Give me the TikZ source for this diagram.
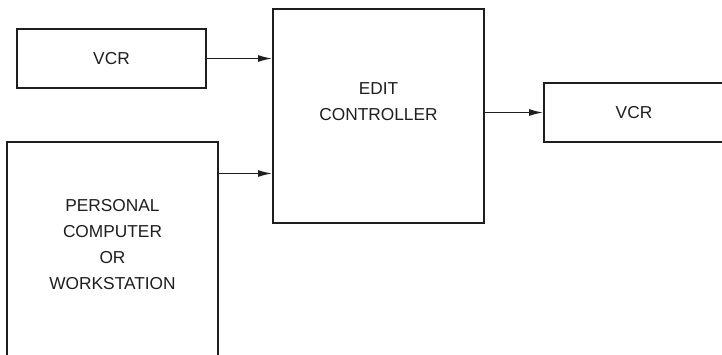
\documentclass[tikz,border=0pt]{standalone}
\usepackage{fontspec}
\setmainfont{Liberation Sans}
\usetikzlibrary{arrows.meta}
\definecolor{ink}{HTML}{1E1E1E}

\begin{document}
\begin{tikzpicture}[x=1pt,y=-1pt,every node/.style={font=\fontsize{17.3}{26}\selectfont,text=ink,align=center},box/.style={draw=ink,line width=1.9pt,inner sep=0pt},link/.style={ink,line width=1.4pt,-{Latex[length=14pt,width=7pt]}}]
\useasboundingbox (0,0) rectangle (722,354);\clip (0,0) rectangle (722,354);
\fill[white] (0,0) rectangle (722,354);
\node[box,minimum width=189,minimum height=59] (vcrin) at (111.5,58.5){VCR};
\node[box,minimum width=211,minimum height=218] (pc) at (112.5,251){};\node (pctext) at (112.5,245){PERSONAL\\COMPUTER\\OR\\WORKSTATION};
\node[box,minimum width=211,minimum height=214] (ctrl) at (378.5,116){};\node (ctrltext) at (378.5,102){EDIT\\CONTROLLER};
\node[box,minimum width=180,minimum height=59] (vcrout) at (634,112.5){VCR};
\coordinate (pcout) at (pc.north east |- 0,173.5);
\draw[link] (vcrin.east)--(ctrl.west |- vcrin.east);\draw[link] (pcout)--(ctrl.west |- pcout);
\draw[link] (ctrl.east |- vcrout.west)--(vcrout.west);
\end{tikzpicture}
\end{document}
